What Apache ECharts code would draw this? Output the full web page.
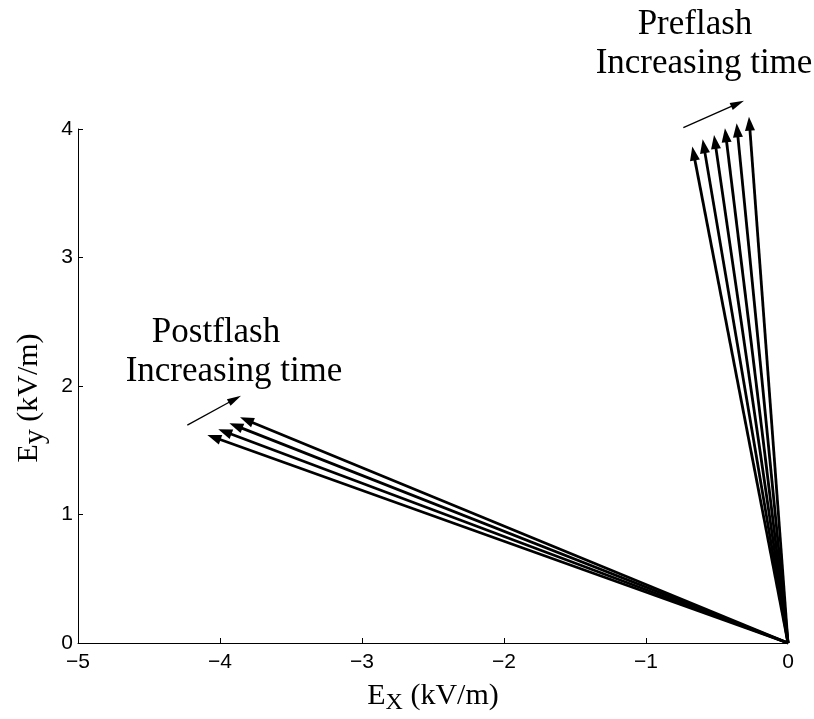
<!DOCTYPE html>
<html>
<head>
<meta charset="utf-8">
<script src="https://cdn.jsdelivr.net/npm/echarts@6/dist/echarts.min.js"></script>
<style>
  html, body { margin: 0; padding: 0; background: #fff; overflow: hidden; }
  #chart { width: 814px; height: 719px; }
</style>
</head>
<body>
<div id="chart"></div>
<script>
// Field vectors (kV/m): each arrow runs from the origin to its tip [Ex, Ey]
const preflashTips = [
  [-0.674, 3.863], [-0.601, 3.920], [-0.521, 3.953],
  [-0.444, 4.005], [-0.362, 4.044], [-0.275, 4.096]
];
const postflashTips = [
  [-4.089, 1.619], [-4.012, 1.663], [-3.934, 1.710], [-3.859, 1.756]
];
// "Increasing time" direction indicators: [x0, y0, x1, y1]
const timeArrows = [
  [-0.737, 4.010, -0.310, 4.220],
  [-4.230, 1.696, -3.852, 1.924]
];
const xTicks = [-5, -4, -3, -2, -1, 0];
const yTicks = [0, 1, 2, 3, 4];

const vectorData = preflashTips.concat(postflashTips).map(t => [0, 0, t[0], t[1]]);

const SERIF = '"Liberation Serif", "Times New Roman", serif';
const SANS = '"Liberation Sans", Arial, Helvetica, sans-serif';

// Straight shaft plus a filled triangular head, positioned through the axes
function arrowRenderer(lineWidth, headLen, headHalf) {
  return function (params, api) {
    const a = api.coord([api.value(0), api.value(1)]);
    const b = api.coord([api.value(2), api.value(3)]);
    const dx = b[0] - a[0], dy = b[1] - a[1];
    const len = Math.sqrt(dx * dx + dy * dy);
    const ux = dx / len, uy = dy / len;
    const nx = -uy, ny = ux;
    const bx = b[0] - ux * headLen, by = b[1] - uy * headLen;
    return {
      type: 'group',
      children: [
        {
          type: 'line',
          shape: { x1: a[0], y1: a[1], x2: bx + ux * 2, y2: by + uy * 2 },
          style: { stroke: '#000', lineWidth: lineWidth }
        },
        {
          type: 'polygon',
          shape: { points: [[b[0], b[1]], [bx + nx * headHalf, by + ny * headHalf], [bx - nx * headHalf, by - ny * headHalf]] },
          style: { fill: '#000' }
        }
      ]
    };
  };
}

const chart = echarts.init(document.getElementById('chart'), null, { renderer: 'canvas', width: 814, height: 719 });

const minus = v => String(v).replace('-', '\u2212');

function note(text, x, top) {
  return {
    type: 'text',
    x: x, y: top,
    style: { text: text, align: 'center', verticalAlign: 'top', font: '35px ' + SERIF, fill: '#000' }
  };
}

chart.setOption({
  animation: false,
  backgroundColor: '#fff',
  grid: { left: 78, top: 129, width: 710, height: 514, containLabel: false, outerBoundsMode: 'none' },
  xAxis: {
    type: 'value',
    min: xTicks[0], max: xTicks[xTicks.length - 1], interval: 1,
    axisLine: { onZero: false, lineStyle: { color: '#000', width: 1 } },
    axisTick: { inside: true, length: 5, lineStyle: { color: '#000' } },
    axisLabel: { color: '#000', fontFamily: SANS, fontSize: 21, margin: 9, formatter: minus },
    splitLine: { show: false },
    name: '{e|E}{s|X}{e| (kV/m)}',
    nameLocation: 'middle',
    nameGap: 34,
    nameTextStyle: {
      rich: {
        e: { fontFamily: SERIF, fontSize: 30, color: '#000' },
        s: { fontFamily: SERIF, fontSize: 24, color: '#000', padding: [14, 0, 0, 0] }
      }
    }
  },
  yAxis: {
    type: 'value',
    min: yTicks[0], max: yTicks[yTicks.length - 1], interval: 1,
    axisLine: { onZero: false, lineStyle: { color: '#000', width: 1 } },
    axisTick: { inside: true, length: 5, lineStyle: { color: '#000' } },
    axisLabel: { color: '#000', fontFamily: SANS, fontSize: 21, margin: 5 },
    splitLine: { show: false },
    name: '{e|E}{s|y}{e| (kV/m)}',
    nameLocation: 'middle',
    nameRotate: 90,
    nameGap: 27,
    nameTextStyle: {
      padding: [0, 24, 0, 0],
      rich: {
        e: { fontFamily: SERIF, fontSize: 30, color: '#000' },
        s: { fontFamily: SERIF, fontSize: 30, color: '#000', padding: [12, 0, 0, 0] }
      }
    }
  },
  graphic: [
    note('Preflash', 695, 7),
    note('Increasing time', 704, 46),
    note('Postflash', 216, 315),
    note('Increasing time', 234, 354)
  ],
  series: [
    {
      type: 'custom',
      name: 'E-field vectors',
      renderItem: arrowRenderer(2.8, 14, 5),
      encode: { x: [0, 2], y: [1, 3] },
      data: vectorData,
      clip: false
    },
    {
      type: 'custom',
      name: 'Time direction',
      renderItem: arrowRenderer(1.3, 14, 3.8),
      encode: { x: [0, 2], y: [1, 3] },
      data: timeArrows,
      clip: false
    }
  ]
});
</script>
</body>
</html>
